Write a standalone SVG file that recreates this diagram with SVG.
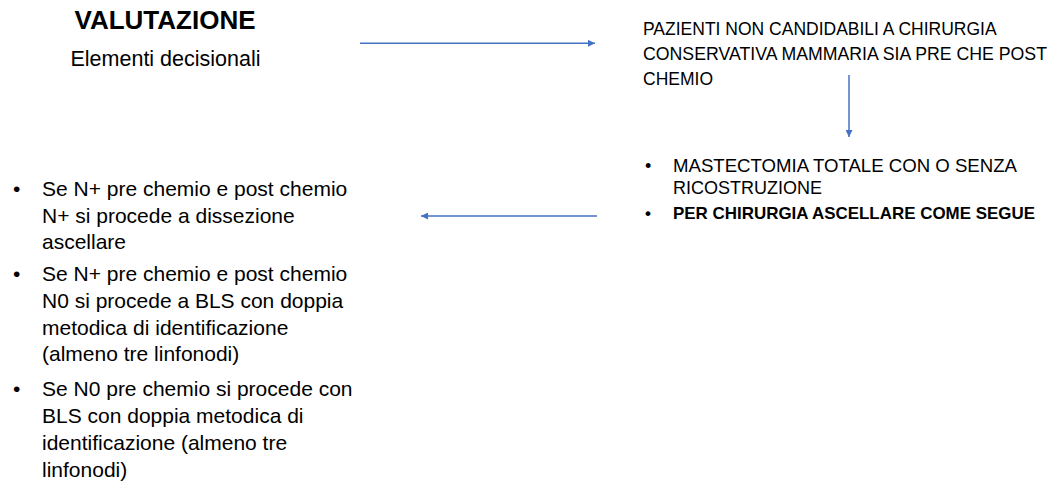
<svg xmlns="http://www.w3.org/2000/svg" width="1051" height="485" viewBox="0 0 1051 485">
<style>
text{font-family:"Liberation Sans",Arial,sans-serif;fill:#000}
.title{font-size:26px;font-weight:bold}
.sub{font-size:21.5px}
.rt{font-size:17.5px}
.rl{font-size:18px}
.rb{font-size:17px;font-weight:bold}
.ll{font-size:21px}
.conn{stroke:#4472C4;stroke-width:1.5;fill:none}
</style>
<defs>
<marker id="ah" viewBox="0 0 10 10" refX="10" refY="5" markerWidth="8" markerHeight="7" markerUnits="userSpaceOnUse" orient="auto">
<path d="M0,0 L10,5 L0,10 Z" fill="#4472C4"/>
</marker>
</defs>
<rect width="1051" height="485" fill="#fff"/>
<g id="valutazione">
<text class="title" x="165" y="29" text-anchor="middle">VALUTAZIONE</text>
<text class="sub" x="165.5" y="65.5" text-anchor="middle">Elementi decisionali</text>
</g>
<g id="pazienti">
<text class="rt" x="643" y="34.5">PAZIENTI NON CANDIDABILI A CHIRURGIA</text>
<text class="rt" x="643" y="59.5" textLength="404" lengthAdjust="spacingAndGlyphs">CONSERVATIVA MAMMARIA SIA PRE CHE POST</text>
<text class="rt" x="643" y="85">CHEMIO</text>
</g>
<g id="mastectomia">
<text class="rl" x="645" y="172">•</text>
<text class="rl" x="673" y="172" textLength="344" lengthAdjust="spacingAndGlyphs">MASTECTOMIA TOTALE CON O SENZA</text>
<text class="rl" x="673" y="194">RICOSTRUZIONE</text>
<text class="rb" x="645" y="219">•</text>
<text class="rb" x="673" y="219" textLength="362" lengthAdjust="spacingAndGlyphs">PER CHIRURGIA ASCELLARE COME SEGUE</text>
</g>
<g id="chirurgia-ascellare">
<text class="ll" x="13" y="196">•</text>
<text class="ll" x="42" y="196">Se N+ pre chemio e post chemio</text>
<text class="ll" x="42" y="222.5">N+ si procede a dissezione</text>
<text class="ll" x="42" y="249">ascellare</text>
<text class="ll" x="13" y="281">•</text>
<text class="ll" x="42" y="281">Se N+ pre chemio e post chemio</text>
<text class="ll" x="42" y="308">N0 si procede a BLS con doppia</text>
<text class="ll" x="42" y="334.5">metodica di identificazione</text>
<text class="ll" x="42" y="361">(almeno tre linfonodi)</text>
<text class="ll" x="13" y="395.5">•</text>
<text class="ll" x="42" y="395.5">Se N0 pre chemio si procede con</text>
<text class="ll" x="42" y="423">BLS con doppia metodica di</text>
<text class="ll" x="42" y="450">identificazione (almeno tre</text>
<text class="ll" x="42" y="477">linfonodi)</text>
</g>
<g id="connectors">
<line class="conn" x1="360" y1="43.3" x2="595" y2="43.3" marker-end="url(#ah)"/>
<line class="conn" x1="849" y1="75" x2="849" y2="137" marker-end="url(#ah)"/>
<line class="conn" x1="597" y1="216" x2="421" y2="216" marker-end="url(#ah)"/>
</g>
</svg>
